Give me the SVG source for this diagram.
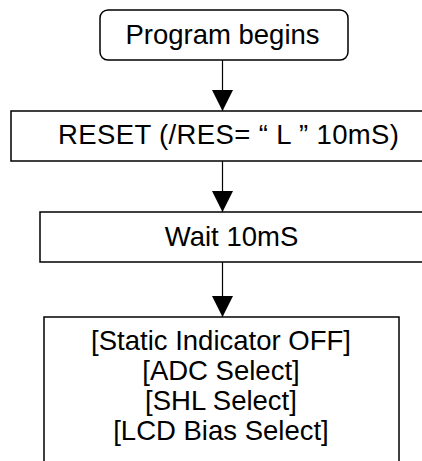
<svg xmlns="http://www.w3.org/2000/svg" width="422" height="461" viewBox="0 0 422 461">
<style>
.box{fill:#fff;stroke:#000;stroke-width:1.5}
.t{font-family:"Liberation Sans",Arial,sans-serif;font-size:27.5px;fill:#000;text-anchor:middle}
.c{stroke:#000;stroke-width:1.2;fill:none}
</style>
<defs>
<marker id="ah" markerWidth="21" markerHeight="21" viewBox="0 0 21 21" refX="21" refY="10.5" orient="auto" markerUnits="userSpaceOnUse">
<path d="M0,0 L21,10.5 L0,21 Z" fill="#000"/>
</marker>
</defs>
<rect width="422" height="461" fill="#fff"/>
<g id="connectors">
<line class="c" x1="222.5" y1="60" x2="222.5" y2="111" marker-end="url(#ah)"/>
<line class="c" x1="222.5" y1="161" x2="222.5" y2="212" marker-end="url(#ah)"/>
<line class="c" x1="222.5" y1="262" x2="222.5" y2="317" marker-end="url(#ah)"/>
</g>
<g id="start">
<rect class="box" x="100" y="10" width="248" height="50" rx="8"/>
<text class="t" x="222.5" y="44.3">Program begins</text>
</g>
<g id="reset">
<rect class="box" x="11" y="111" width="420" height="50"/>
<text class="t" x="228.5" y="144.3" textLength="341" lengthAdjust="spacing">RESET (/RES= “ L ” 10mS)</text>
</g>
<g id="wait">
<rect class="box" x="40" y="212" width="400" height="50"/>
<text class="t" x="231.5" y="245.5">Wait 10mS</text>
</g>
<g id="init">
<rect class="box" x="44" y="317" width="355" height="160"/>
<text class="t" x="221" y="350">[Static Indicator OFF]</text>
<text class="t" x="221" y="380">[ADC Select]</text>
<text class="t" x="221" y="410">[SHL Select]</text>
<text class="t" x="221" y="440">[LCD Bias Select]</text>
</g>
</svg>
